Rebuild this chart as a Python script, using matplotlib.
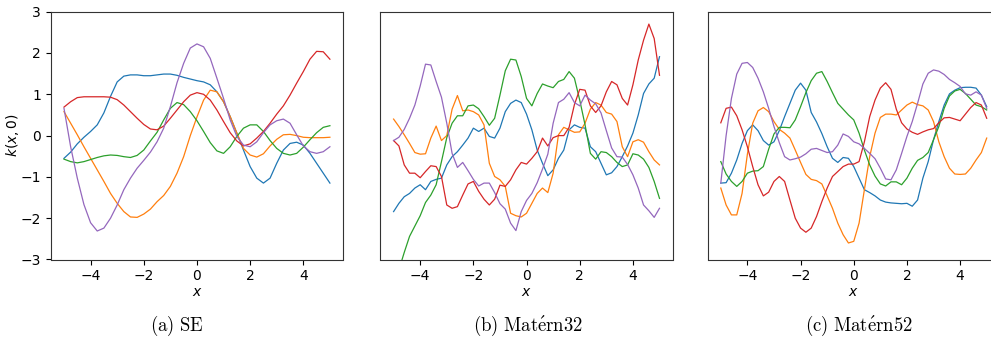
import numpy as np
import matplotlib
matplotlib.use("Agg")
import matplotlib.pyplot as plt

# ---------------- data ----------------
x_se = np.linspace(-5, 5, 41)
se_blue = [-0.55, -0.4, -0.2, -0.04, 0.1, 0.26, 0.55, 0.95, 1.3, 1.44, 1.47, 1.47, 1.45, 1.45, 1.47, 1.49, 1.49, 1.46, 1.41, 1.37, 1.33,
           1.3, 1.23, 1.06, 0.82, 0.46, 0.06, -0.35, -0.75, -1.03, -1.15, -1.03, -0.67, -0.35, -0.19, -0.16, -0.23, -0.43, -0.67, -0.91, -1.15]
se_orange = [0.58, 0.3, 0.02, -0.27, -0.55, -0.83, -1.11, -1.4, -1.64, -1.84, -1.97, -1.98, -1.9, -1.78, -1.6, -1.45, -1.23, -0.91, -0.51, 0.0, 0.45,
             0.86, 1.1, 1.06, 0.82, 0.46, 0.06, -0.31, -0.47, -0.52, -0.44, -0.25, -0.09, 0.02, 0.03, 0.0, -0.04, -0.05, -0.05, -0.05, -0.04]
se_green = [-0.57, -0.63, -0.66, -0.63, -0.58, -0.53, -0.49, -0.47, -0.48, -0.51, -0.53, -0.48, -0.35, -0.13, 0.08, 0.38, 0.66, 0.8, 0.75, 0.58, 0.36,
            0.1, -0.17, -0.37, -0.43, -0.27, -0.02, 0.18, 0.26, 0.26, 0.1, -0.12, -0.31, -0.43, -0.47, -0.43, -0.28, -0.1, 0.07, 0.2, 0.24]
se_red = [0.69, 0.82, 0.92, 0.94, 0.94, 0.94, 0.94, 0.93, 0.87, 0.74, 0.58, 0.42, 0.27, 0.16, 0.14, 0.23, 0.42, 0.62, 0.82, 0.98, 1.04,
          1.0, 0.86, 0.62, 0.34, 0.07, -0.13, -0.25, -0.2, -0.06, 0.1, 0.3, 0.52, 0.72, 0.98, 1.27, 1.55, 1.85, 2.04, 2.03, 1.85]
se_purple = [0.66, -0.27, -1.03, -1.67, -2.11, -2.31, -2.24, -2.0, -1.68, -1.31, -1.03, -0.79, -0.6, -0.4, -0.15, 0.18, 0.7, 1.28, 1.75, 2.12, 2.22,
             2.15, 1.87, 1.39, 0.9, 0.38, -0.02, -0.23, -0.27, -0.15, 0.07, 0.26, 0.36, 0.4, 0.3, 0.02, -0.25, -0.39, -0.43, -0.39, -0.27]

x_m32 = np.linspace(-5, 5, 51)
m32_blue = [-1.84, -1.64, -1.48, -1.4, -1.27, -1.19, -1.31, -1.11, -1.06, -1.03, -0.71,
            -0.51, -0.39, -0.23, -0.06, 0.18, 0.1, 0.18, -0.02, -0.06, 0.18,
            0.58, 0.78, 0.86, 0.8, 0.52,
            0.14, -0.35, -0.67, -0.97, -0.83, -0.55, -0.35, 0.14, 0.26, 0.2,
            0.18, -0.27, -0.39, -0.67, -0.95, -0.9, -0.75, -0.51, -0.25, 0.06,
            0.5, 1.02, 1.25, 1.39, 1.91]
m32_orange = [0.4, 0.22, 0.02, -0.19, -0.41, -0.45, -0.44, -0.06, 0.23, -0.12, 0.0,
              0.64, 0.97, 0.6, 0.62, 0.58, 0.5, 0.26, -0.67, -0.99, -1.07,
              -1.23, -1.88, -1.94, -1.97, -1.88,
              -1.64, -1.4, -1.27, -1.38, -0.91, 0.02, 0.2, 0.14, 0.08, 0.09,
              0.3, 0.64, 0.8, 0.74, 0.56, 0.52, 0.34, -0.27, -0.51, -0.15,
              -0.1, -0.16, -0.39, -0.59, -0.71]
m32_green = [-3.6, -3.25, -2.83, -2.44, -2.19, -1.94, -1.62, -1.44, -1.19, -0.63, -0.05,
             0.3, 0.48, 0.48, 0.72, 0.74, 0.65, 0.46, 0.25, 0.42, 0.98,
             1.57, 1.85, 1.83, 1.43, 0.9,
             0.72, 1.02, 1.25, 1.2, 1.16, 1.31, 1.36, 1.55, 1.39, 0.86,
             0.26, -0.43, -0.57, -0.39, -0.41, -0.51, -0.65, -0.75, -0.71, -0.44,
             -0.47, -0.57, -0.77, -1.11, -1.52]
m32_red = [-0.12, -0.25, -0.71, -0.91, -0.91, -1.02, -0.87, -0.73, -0.75, -0.99, -1.68,
           -1.76, -1.72, -1.44, -1.17, -1.11, -1.35, -1.54, -1.68, -1.54, -1.2,
           -1.23, -1.07, -0.83, -0.65, -0.69,
           -0.55, -0.39, -0.06, -0.25, -0.05, 0.0, 0.0, 0.2, 0.75, 1.12,
           1.1, 0.72, 0.56, 0.72, 1.06, 1.31, 1.23, 0.9, 0.74, 1.23,
           1.83, 2.31, 2.7, 2.35, 1.46]
m32_purple = [-0.12, -0.04, 0.15, 0.42, 0.74, 1.2, 1.73, 1.71, 1.31, 0.93, 0.3,
              -0.43, -0.77, -0.65, -0.85, -1.06, -1.22, -1.15, -1.15, -1.38, -1.65,
              -1.78, -2.12, -2.3, -1.84, -1.57,
              -1.4, -1.14, -0.81, -0.45, 0.3, 0.8, 0.88, 1.04, 0.8, 0.72,
              0.98, 0.86, 0.77, 0.55, 0.12, -0.3, -0.51, -0.52, -0.7, -0.95,
              -1.27, -1.68, -1.82, -1.98, -1.76]

x_m52 = np.linspace(-5, 5, 51)
m52_blue = [-1.15, -1.14, -0.91, -0.59, -0.19, 0.12, 0.26, 0.12, -0.12, -0.23, -0.15,
            0.12, 0.46, 0.78, 1.1, 1.27, 1.1, 0.56, 0.33, 0.05, -0.27,
            -0.55, -0.65, -0.53, -0.55, -0.75,
            -1.03, -1.31, -1.38, -1.46, -1.56, -1.61, -1.63, -1.64, -1.65, -1.64,
            -1.71, -1.56, -1.03, -0.63, -0.1, 0.34, 0.74, 1.01, 1.1, 1.16,
            1.17, 1.17, 1.15, 0.98, 0.7]
m52_orange = [-1.27, -1.68, -1.92, -1.92, -1.4, -0.45, 0.3, 0.6, 0.68, 0.58, 0.34,
              0.15, 0.06, -0.06, -0.35, -0.65, -0.94, -1.06, -1.09, -1.17, -1.46,
              -1.76, -2.12, -2.4, -2.6, -2.56,
              -2.12, -1.31, -0.51, 0.06, 0.44, 0.52, 0.52, 0.5, 0.62, 0.74,
              0.81, 0.75, 0.72, 0.62, 0.34, -0.15, -0.51, -0.79, -0.93, -0.94,
              -0.93, -0.79, -0.59, -0.41, -0.06]
m52_green = [-0.63, -0.93, -1.11, -1.23, -1.11, -0.91, -0.86, -0.85, -0.75, -0.33, 0.04,
             0.2, 0.2, 0.19, 0.38, 0.7, 1.04, 1.33, 1.51, 1.55, 1.31,
             1.04, 0.78, 0.64, 0.5, 0.38,
             0.06, -0.35, -0.71, -0.98, -1.17, -1.22, -1.12, -1.12, -1.19, -1.03,
             -0.79, -0.6, -0.53, -0.41, -0.1, 0.22, 0.66, 0.96, 1.08, 1.12,
             1.02, 0.88, 0.74, 0.7, 0.62]
m52_red = [0.31, 0.66, 0.69, 0.48, 0.14, -0.27, -0.75, -1.19, -1.46, -1.37, -1.11,
           -0.99, -1.11, -1.56, -2.0, -2.24, -2.34, -2.24, -1.96, -1.6, -1.27,
           -0.99, -0.87, -0.75, -0.69, -0.69,
           -0.63, -0.15, 0.46, 0.86, 1.15, 1.28, 1.12, 0.64, 0.31, 0.16,
           0.08, 0.03, 0.09, 0.14, 0.17, 0.31, 0.43, 0.44, 0.4, 0.36,
           0.52, 0.68, 0.8, 0.74, 0.42]
m52_purple = [-1.15, 0.0, 0.9, 1.49, 1.75, 1.77, 1.65, 1.39, 1.06, 0.66, 0.22,
              -0.17, -0.51, -0.59, -0.56, -0.52, -0.44, -0.33, -0.31, -0.36, -0.41,
              -0.39, -0.23, 0.04, -0.02, -0.15,
              -0.2, -0.31, -0.43, -0.56, -0.79, -1.05, -1.07, -0.83, -0.43, -0.02,
              0.34, 0.78, 1.25, 1.51, 1.59, 1.56, 1.48, 1.36, 1.28, 1.19,
              1.01, 0.98, 1.06, 0.98, 0.66]

captions = [r"$\mathrm{(a)\ SE}$", r"$\mathrm{(b)\ Mat\'{e}rn32}$", r"$\mathrm{(c)\ Mat\'{e}rn52}$"]
xticks = [-4, -2, 0, 2, 4]
yticks = [-3, -2, -1, 0, 1, 2, 3]

panels = [
    (x_se, [se_blue, se_orange, se_green, se_red, se_purple]),
    (x_m32, [m32_blue, m32_orange, m32_green, m32_red, m32_purple]),
    (x_m52, [m52_blue, m52_orange, m52_green, m52_red, m52_purple]),
]
colors = ["C0", "C1", "C2", "C3", "C4"]

# ---------------- figure ----------------
W, H = 991, 340
fig = plt.figure(figsize=(W / 100, H / 100), dpi=100)

ax_left_px = [50.7, 380.3, 707.5]
ax_w_px = 292.5
ax_top_px, ax_bot_px = 11.7, 259.5
caption_x_px = [177, 528, 859]
caption_y_px = 326

for i, (xs, series) in enumerate(panels):
    ax = fig.add_axes([ax_left_px[i] / W, 1 - ax_bot_px / H,
                       ax_w_px / W, (ax_bot_px - ax_top_px) / H])
    for ys, c in zip(series, colors):
        ax.plot(xs, ys, color=c, lw=0.9)
    ax.set_xlim(-5.5, 5.5)
    ax.set_ylim(-3, 3)
    ax.set_xticks(xticks)
    ax.set_xlabel(r"$x$", labelpad=1)
    if i == 0:
        ax.set_yticks(yticks)
        ax.set_ylabel(r"$k(x, 0)$")
        ax.yaxis.set_label_coords(-0.1, 0.5)
    else:
        ax.set_yticks([])
    for s in ax.spines.values():
        s.set_color("#333333")
    fig.text(caption_x_px[i] / W, 1 - caption_y_px / H, captions[i],
             ha="center", va="center", fontsize=13.5, math_fontfamily="cm")

fig.savefig("out.png", dpi=100)
